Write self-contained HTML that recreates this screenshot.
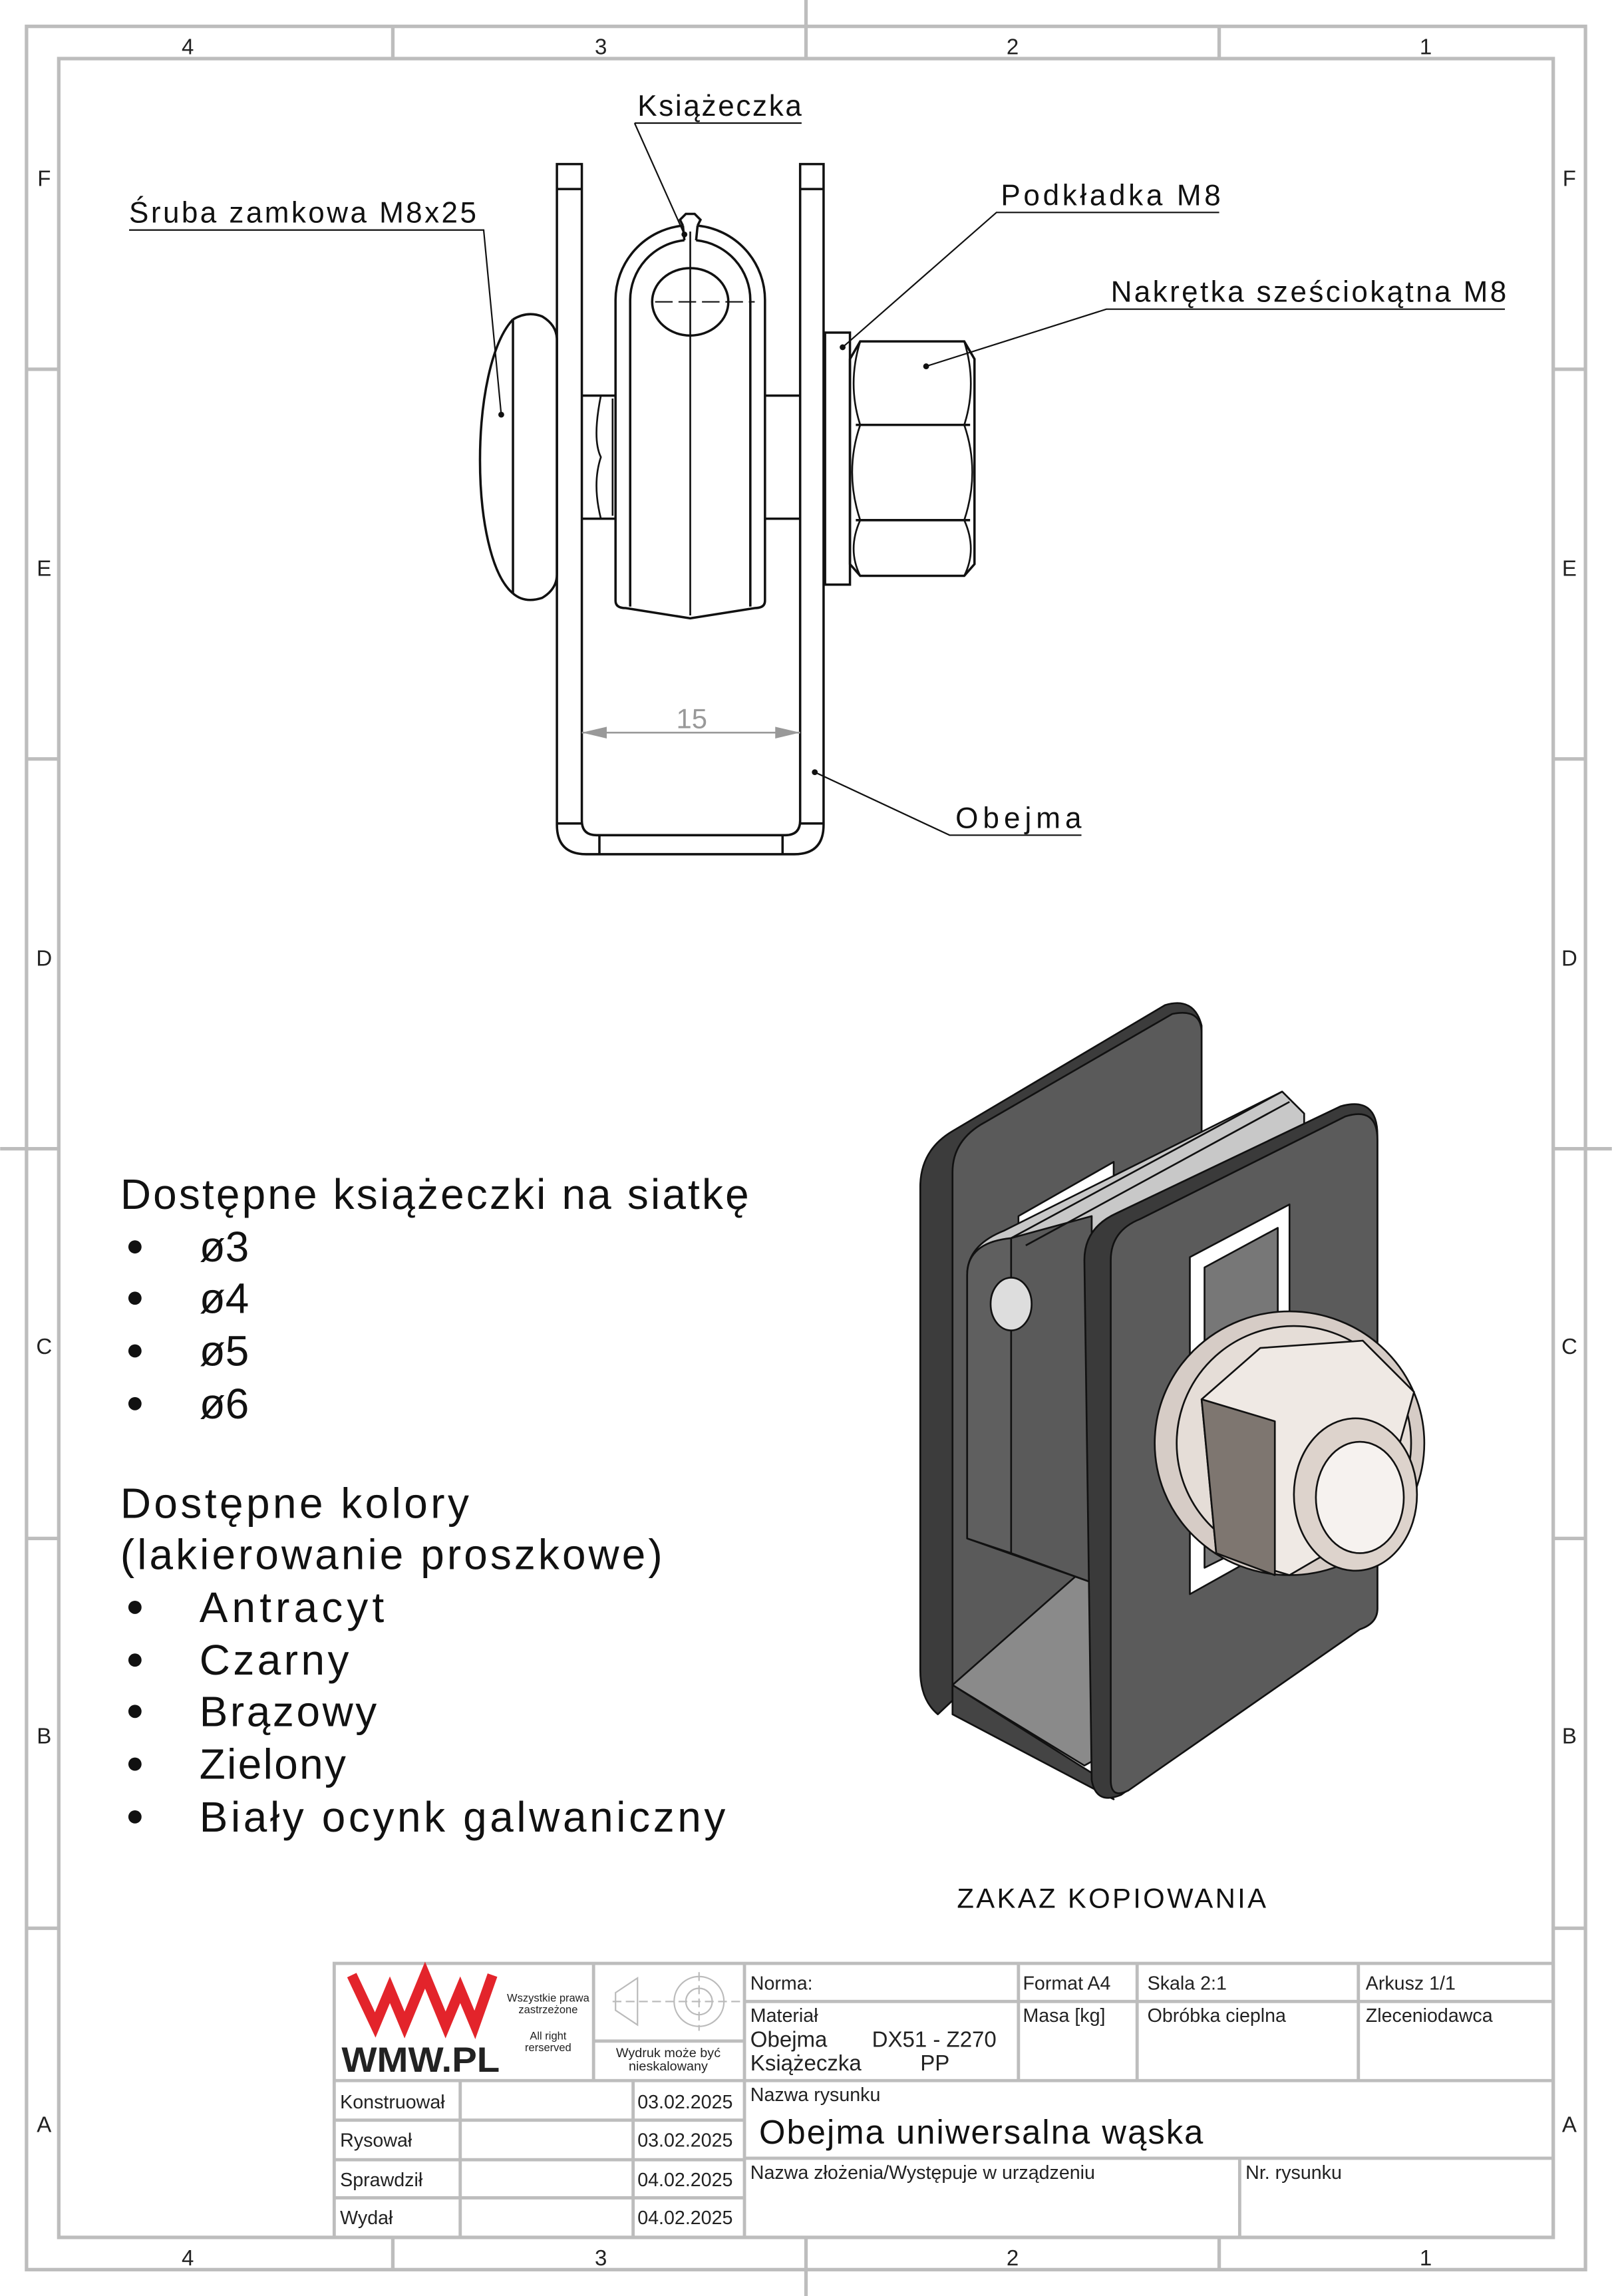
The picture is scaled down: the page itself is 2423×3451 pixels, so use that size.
<!DOCTYPE html>
<html><head><meta charset="utf-8"><style>
html,body{margin:0;padding:0;background:#fff}
svg{display:block}
text{font-family:"Liberation Sans","DejaVu Sans",sans-serif}
</style></head><body>
<svg xmlns="http://www.w3.org/2000/svg" width="2423" height="3451" viewBox="0 0 1100 1567">
<rect width="1100" height="1567" fill="#fff"/>
<g stroke="#bdbdbd" stroke-width="2.4" fill="none">
<rect x="18" y="18" width="1064" height="1531"/>
<rect x="40" y="40" width="1020" height="1487"/>
<path d="M268 18V40M550 0V40M832 18V40M268 1527V1549M550 1527V1567M832 1527V1549"/>
<path d="M18 252H40M18 518H40M0 784H40M18 1050H40M18 1316H40M1060 252H1082M1060 518H1082M1060 784H1100M1060 1050H1082M1060 1316H1082"/>
</g>
<g font-size="15" fill="#222" text-anchor="middle">
<text x="128" y="37">4</text><text x="410" y="37">3</text><text x="691" y="37">2</text><text x="973" y="37">1</text>
<text x="128" y="1546">4</text><text x="410" y="1546">3</text><text x="691" y="1546">2</text><text x="973" y="1546">1</text>
<text x="30" y="127">F</text><text x="30" y="393">E</text><text x="30" y="659">D</text><text x="30" y="924">C</text><text x="30" y="1190">B</text><text x="30" y="1455">A</text>
<text x="1071" y="127">F</text><text x="1071" y="393">E</text><text x="1071" y="659">D</text><text x="1071" y="924">C</text><text x="1071" y="1190">B</text><text x="1071" y="1455">A</text>
</g>

<g stroke="#111" stroke-width="1.6" fill="none">
<path d="M380 112H397V560Q397 570 407 570H536Q546 570 546 560V112H562V563Q562 583 542 583H400Q380 583 380 563Z"/>
<path d="M380 129H397M546 129H562M409 570V583M534 570V583M380 562H397M546 562H562"/>
<path d="M466 154A51 51 0 0 0 420 205V410Q420 415 427 415L471 422L515 415Q522 415 522 410V205A51 51 0 0 0 476 154"/>
<path d="M430 414V205A41 41 0 0 1 467 164M475 164A41 41 0 0 1 512 205V414"/>
<path d="M466 154L464 150L468 146H474L478 150L476 154M467 164L466 154M475 164L476 154"/>
<ellipse cx="471" cy="206" rx="26" ry="23"/>
<path d="M471 158V420" stroke-width="1.2"/>
<path d="M447 206H515" stroke-width="1" stroke-dasharray="12 4"/>
<path d="M397 270H420M397 354H420M522 270H546M522 354H546"/>
<path d="M410 270Q404 300 410 312Q404 330 410 354M418 272V352" stroke-width="1.2"/>
<path d="M350 218C320 250 320 380 350 405"/>
<path d="M350 218Q360 212 370 216Q380 222 380 232V392Q380 402 370 408Q358 412 350 405"/>
<path d="M350 218V405"/>
<rect x="563" y="227" width="17" height="172"/>
<path d="M587 233H658L665 245V385L658 393H587L580 385V245Z"/>
<path d="M584 290H662M584 355H662"/>
<path d="M587 233Q578 262 587 290Q576 322 587 355Q578 375 587 393M658 233Q667 262 658 290Q669 322 658 355Q667 375 658 393" stroke-width="1.2"/>
</g>
<g stroke="#999" stroke-width="1.2" fill="#999">
<path d="M397 500H546"/>
<path d="M397 500L414 496V504Z M546 500L529 496V504Z" stroke="none"/>
</g>
<text x="472" y="497" font-size="19" fill="#999" text-anchor="middle">15</text>
<g stroke="#111" stroke-width="1" fill="none">
<path d="M433 84H547M433 84L467 160"/>
<path d="M88 157H330L342 283"/>
<path d="M832 145H680L575 237"/>
<path d="M1027 211H755L632 250"/>
<path d="M738 570H648L556 527"/>
</g>
<g fill="#111"><circle cx="467" cy="160" r="2"/><circle cx="342" cy="283" r="2"/><circle cx="575" cy="237" r="2"/><circle cx="632" cy="250" r="2"/><circle cx="556" cy="527" r="2"/></g>
<g font-size="20" fill="#111" lengthAdjust="spacingAndGlyphs">
<text x="435" y="79" textLength="112">Książeczka</text>
<text x="88" y="152" textLength="237">Śruba zamkowa M8x25</text>
<text x="683" y="140" textLength="150">Podkładka M8</text>
<text x="758" y="206" textLength="270">Nakrętka sześciokątna M8</text>
<text x="652" y="565" textLength="86">Obejma</text>
</g>

<g font-size="29" fill="#111">
<text x="82" y="825" textLength="429">Dostępne książeczki na siatkę</text>
<text x="136" y="861">ø3</text><text x="136" y="896">ø4</text><text x="136" y="932">ø5</text><text x="136" y="968">ø6</text>
<text x="82" y="1036" textLength="238">Dostępne kolory</text>
<text x="82" y="1071" textLength="370">(lakierowanie proszkowe)</text>
<text x="136" y="1107" textLength="126">Antracyt</text><text x="136" y="1143" textLength="102">Czarny</text><text x="136" y="1178" textLength="121">Brązowy</text><text x="136" y="1214" textLength="100">Zielony</text><text x="136" y="1250" textLength="359">Biały ocynk galwaniczny</text>
</g>
<g fill="#111"><circle cx="92" cy="851" r="4.5"/><circle cx="92" cy="886" r="4.5"/><circle cx="92" cy="922" r="4.5"/><circle cx="92" cy="958" r="4.5"/>
<circle cx="92" cy="1097" r="4.5"/><circle cx="92" cy="1133" r="4.5"/><circle cx="92" cy="1168" r="4.5"/><circle cx="92" cy="1204" r="4.5"/><circle cx="92" cy="1240" r="4.5"/></g>
<text x="653" y="1302" font-size="19" fill="#111" textLength="211">ZAKAZ KOPIOWANIA</text>

<g stroke="#111" stroke-width="1.2" stroke-linejoin="round">
<path d="M628 810Q628 785 650 772L795 686Q815 680 820 700V1000L640 1170Q628 1160 628 1140Z" fill="#3c3c3c"/>
<path d="M650 800Q650 778 672 766L800 692Q820 688 820 705V1000L650 1160Z" fill="#5a5a5a"/>
<path d="M695 830L760 793V850L695 880Z" fill="#fff"/>
<path d="M650 1150L740 1205L820 1160V1000Z" fill="#8a8a8a"/>
<path d="M650 1150L745 1210L760 1228L650 1170Z" fill="#444"/>
<path d="M660 870Q660 850 685 840L875 745L890 760V980L745 1080L660 1050Z" fill="#c8c8c8"/>
<path d="M660 870Q660 848 690 845V1060L660 1050Z" fill="#5f5f5f"/>
<path d="M690 845L745 830V1080L690 1060Z" fill="#5a5a5a"/>
<path d="M690 845L875 745M700 850L880 752" fill="none"/>
<ellipse cx="690" cy="890" rx="14" ry="18" fill="#ddd"/>
<path d="M740 860Q740 838 762 828L915 755Q940 748 940 775V1098Q940 1108 925 1112L765 1225Q748 1232 745 1215Z" fill="#3a3a3a"/>
<path d="M758 860Q758 840 778 832L918 762Q940 755 940 778V1098Q940 1108 928 1112L770 1222Q758 1228 758 1215Z" fill="#5b5b5b"/>
<path d="M812 858L880 822V1050L812 1088Z" fill="#fff"/>
<path d="M822 865L872 838V1045L822 1070Z" fill="#777"/>
<ellipse cx="880" cy="985" rx="92" ry="90" fill="#d6ccc6"/>
<ellipse cx="883" cy="985" rx="80" ry="80" fill="#e5ddd7"/>
<path d="M820 955L860 920L930 915L965 950L940 1040L880 1075L830 1060Z" fill="#efe9e4"/>
<path d="M820 955L830 1060L870 1075L870 970Z" fill="#7e7670"/>
<ellipse cx="925" cy="1020" rx="42" ry="52" fill="#ddd3cc"/>
<ellipse cx="928" cy="1022" rx="30" ry="38" fill="#f6f2ef"/>
</g>

<g stroke="#bdbdbd" stroke-width="2.2" fill="none">
<rect x="228" y="1340" width="832" height="187"/>
<path d="M405 1340V1420M508 1340V1527M695 1340V1420M776 1340V1420M927 1340V1420M508 1366H1060M405 1393H508M228 1420H1060"/>
<path d="M314 1420V1527M432 1420V1527M228 1447H508M228 1474H508M228 1500H508M508 1473H1060M846 1473V1527"/>
</g>
<g stroke="#bbb" stroke-width="1" fill="none">
<path d="M420 1360L435 1350V1382L420 1372Z"/><circle cx="477" cy="1366" r="17"/><circle cx="477" cy="1366" r="9"/><path d="M418 1366H505M477 1346V1386" stroke-dasharray="6 3"/>
</g>
<path d="M240 1348L256 1382L266 1358L276 1382L290 1348L304 1382L314 1358L324 1382L336 1348" stroke="#e3242b" stroke-width="7" fill="none"/>
<text x="233" y="1414" font-size="24" font-weight="bold" fill="#222" textLength="108" lengthAdjust="spacingAndGlyphs">WMW.PL</text>
<g font-size="7.5" fill="#222" text-anchor="middle">
<text x="374" y="1366">Wszystkie prawa</text><text x="374" y="1374">zastrzeżone</text>
<text x="374" y="1392">All right</text><text x="374" y="1400">rerserved</text>
<text x="456" y="1404" font-size="9">Wydruk może być</text><text x="456" y="1413" font-size="9">nieskalowany</text>
</g>
<g font-size="13" fill="#222">
<text x="512" y="1358">Norma:</text><text x="698" y="1358">Format A4</text><text x="783" y="1358">Skala 2:1</text><text x="932" y="1358">Arkusz 1/1</text>
<text x="512" y="1380">Materiał</text><text x="698" y="1380">Masa [kg]</text><text x="783" y="1380">Obróbka cieplna</text><text x="932" y="1380">Zleceniodawca</text>
<text x="512" y="1397" font-size="15">Obejma</text><text x="595" y="1397" font-size="15">DX51 - Z270</text>
<text x="512" y="1413" font-size="15">Książeczka</text><text x="628" y="1413" font-size="15">PP</text>
<text x="232" y="1439">Konstruował</text><text x="435" y="1439">03.02.2025</text>
<text x="232" y="1465">Rysował</text><text x="435" y="1465">03.02.2025</text>
<text x="232" y="1492">Sprawdził</text><text x="435" y="1492">04.02.2025</text>
<text x="232" y="1518">Wydał</text><text x="435" y="1518">04.02.2025</text>
<text x="512" y="1434">Nazwa rysunku</text>
<text x="512" y="1487">Nazwa złożenia/Występuje w urządzeniu</text>
<text x="850" y="1487">Nr. rysunku</text>
</g>
<text x="518" y="1463" font-size="23" fill="#111" textLength="303">Obejma uniwersalna wąska</text>
</svg>
</body></html>
